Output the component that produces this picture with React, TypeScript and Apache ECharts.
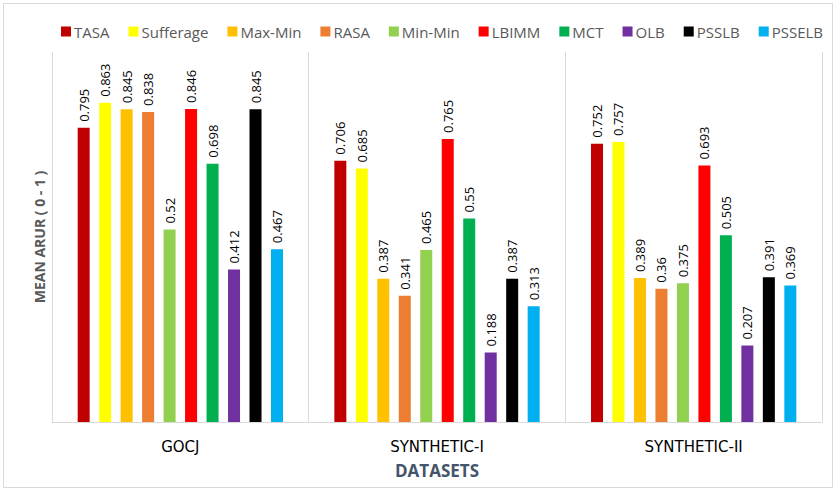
import React, { useEffect, useRef } from "react";
import * as echarts from "echarts";

const categories = ["GOCJ", "SYNTHETIC-I", "SYNTHETIC-II"];
const seriesNames = ["TASA", "Sufferage", "Max-Min", "RASA", "Min-Min", "LBIMM", "MCT", "OLB", "PSSLB", "PSSELB"];
const TASA = [0.795, 0.706, 0.752];
const Sufferage = [0.863, 0.685, 0.757];
const MaxMin = [0.845, 0.387, 0.389];
const RASA = [0.838, 0.341, 0.36];
const MinMin = [0.52, 0.465, 0.375];
const LBIMM = [0.846, 0.765, 0.693];
const MCT = [0.698, 0.55, 0.505];
const OLB = [0.412, 0.188, 0.207];
const PSSLB = [0.845, 0.387, 0.391];
const PSSELB = [0.467, 0.313, 0.369];
const seriesValues = [TASA, Sufferage, MaxMin, RASA, MinMin, LBIMM, MCT, OLB, PSSLB, PSSELB];
const colors = ["#C00000", "#FFFF00", "#FFC000", "#ED7D31", "#92D050", "#FF0000", "#00B050", "#7030A0", "#000000", "#00B0F0"];

export default function App() {
  const ref = useRef<HTMLDivElement>(null);
  useEffect(() => {
    document.body.style.margin = "0";
    const chart = echarts.init(ref.current!, null, { renderer: "svg" });
    const font = "'Open Sans', 'Noto Sans', sans-serif";
    chart.setOption({
      animation: false,
      backgroundColor: "#FFFFFF",
      textStyle: { fontFamily: font },
      graphic: [
        {
          type: "rect",
          shape: { x: 3.5, y: 3.5, width: 829, height: 484 },
          style: { fill: "none", stroke: "#D9D9D9", lineWidth: 1 },
          silent: true,
        },
      ],
      legend: {
        top: 19,
        left: 56,
        itemWidth: 10,
        itemHeight: 10,
        itemGap: 19,
        icon: "rect",
        textStyle: { color: "#595959", fontSize: 15, fontFamily: font, padding: [0, 0, 0, -2] },
        data: seriesNames,
      },
      grid: { left: 52, right: 15, top: 52, bottom: 70, containLabel: false },
      xAxis: {
        type: "category",
        data: categories,
        name: "DATASETS",
        nameLocation: "middle",
        nameGap: 40,
        nameTextStyle: { color: "#44546A", fontSize: 17, fontWeight: "bold", fontFamily: font },
        axisLine: { show: true, lineStyle: { color: "#D9D9D9", width: 1 } },
        axisTick: { show: false },
        splitLine: { show: true, lineStyle: { color: "#D9D9D9", width: 1 } },
        axisLabel: { color: "#000000", fontSize: 15, margin: 17, fontFamily: "'DejaVu Sans', sans-serif" },
      },
      yAxis: {
        type: "value",
        min: 0,
        max: 1,
        name: "MEAN ARUR ( 0 - 1 )",
        nameLocation: "middle",
        nameGap: 6,
        nameTextStyle: { color: "#595959", fontSize: 14, fontWeight: "bold", fontFamily: font },
        axisLine: { show: false },
        axisTick: { show: false },
        axisLabel: { show: false },
        splitLine: { show: false },
      },
      series: seriesNames.map((name, i) => ({
        name,
        type: "bar",
        data: seriesValues[i],
        barWidth: 12,
        barGap: "79%",
        itemStyle: { color: colors[i] },
        label: {
          show: true,
          position: "top",
          rotate: 90,
          align: "left",
          verticalAlign: "middle",
          distance: 6,
          color: "#000000",
          fontSize: 13,
          fontFamily: font,
          formatter: (p: any) => String(p.value),
        },
      })),
    });
    return () => chart.dispose();
  }, []);
  return <div ref={ref} style={{ width: 837, height: 492 }} />;
}
